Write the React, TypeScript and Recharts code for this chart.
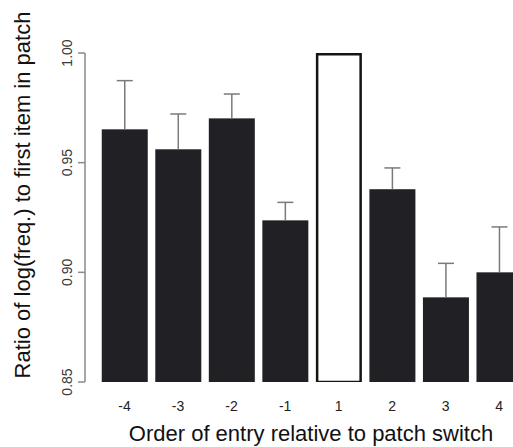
import React from "react";
import { BarChart, Bar, XAxis, YAxis } from "recharts";

const categories = ["-4", "-3", "-2", "-1", "1", "2", "3", "4"];
const ratios = [0.9652, 0.9561, 0.9702, 0.9237, 1.0, 0.9379, 0.8886, 0.9];
const upperErrors = [0.0222, 0.0161, 0.0111, 0.0082, 0, 0.0097, 0.0155, 0.0207];
const highlighted = [false, false, false, false, true, false, false, false];
const yTicks = [0.85, 0.9, 0.95, 1.0];
const yDomain: [number, number] = [0.85, 1.0];
const xTitle = "Order of entry relative to patch switch";
const yTitle = "Ratio of log(freq.) to first item in patch";

const data = categories.map((c, i) => ({
  cat: c,
  value: ratios[i],
  err: upperErrors[i],
  hl: highlighted[i],
}));

const FONT = "'Liberation Sans', Arial, Helvetica, sans-serif";

const BarShape = (props: any) => {
  const { x, y, width, height } = props;
  const p = props.payload ?? props;
  if (p.hl) {
    const sw = 2.5;
    return (
      <rect
        x={x + sw / 2}
        y={y + sw / 2}
        width={width - sw}
        height={height - sw / 2}
        fill="#ffffff"
        stroke="#141414"
        strokeWidth={sw}
      />
    );
  }
  const pxPerUnit = height / (p.value - yDomain[0]);
  const errTop = y - p.err * pxPerUnit;
  const cx = x + width / 2;
  return (
    <g>
      <rect x={x} y={y} width={width} height={height} fill="#212024" />
      {p.err > 0 && (
        <g stroke="#7a7a7a" strokeWidth={1.5}>
          <line x1={cx} x2={cx} y1={y} y2={errTop} />
          <line x1={cx - 8} x2={cx + 8} y1={errTop} y2={errTop} />
        </g>
      )}
    </g>
  );
};

const YTick = (props: any) => {
  const { y, payload } = props;
  const bx = 72;
  return (
    <text
      x={bx}
      y={y}
      transform={`rotate(-90, ${bx}, ${y})`}
      textAnchor="middle"
      fontSize={14}
      fontFamily={FONT}
      fill="#3a3a3a"
    >
      {Number(payload.value).toFixed(2)}
    </text>
  );
};

const XTick = (props: any) => {
  const { x, payload } = props;
  return (
    <text
      x={x}
      y={410.5}
      textAnchor="middle"
      fontSize={14}
      fontFamily={FONT}
      fill="#222222"
    >
      {payload.value}
    </text>
  );
};

const XTitle = () => (
  <text
    x={311}
    y={441}
    textAnchor="middle"
    fontSize={22}
    fontFamily={FONT}
    fill="#111111"
  >
    {xTitle}
  </text>
);

const YTitle = () => (
  <text
    x={30}
    y={195}
    transform="rotate(-90, 30, 195)"
    textAnchor="middle"
    fontSize={22}
    fontFamily={FONT}
    fill="#111111"
  >
    {yTitle}
  </text>
);

export default function App() {
  return (
    <div
      style={{
        position: "absolute",
        left: 0,
        top: 0,
        width: 513,
        height: 447,
        overflow: "hidden",
        background: "#ffffff",
      }}
    >
      <BarChart
        width={526}
        height={447}
        data={data}
        margin={{ top: 53, right: 0, bottom: 0, left: 0 }}
      >
        <XAxis
          dataKey="cat"
          height={65}
          axisLine={false}
          tickLine={false}
          padding={{ left: 12.75, right: 0 }}
          tick={<XTick />}
          interval={0}
          label={<XTitle />}
        />
        <YAxis
          width={85}
          domain={yDomain}
          ticks={yTicks}
          allowDataOverflow
          tickSize={7}
          axisLine={{ stroke: "#8a8a8a", strokeWidth: 1.5 }}
          tickLine={{ stroke: "#8a8a8a", strokeWidth: 1.5 }}
          tick={<YTick />}
          label={<YTitle />}
        />
        <Bar
          dataKey="value"
          barSize={46}
          shape={<BarShape />}
          isAnimationActive={false}
        />
      </BarChart>
    </div>
  );
}
